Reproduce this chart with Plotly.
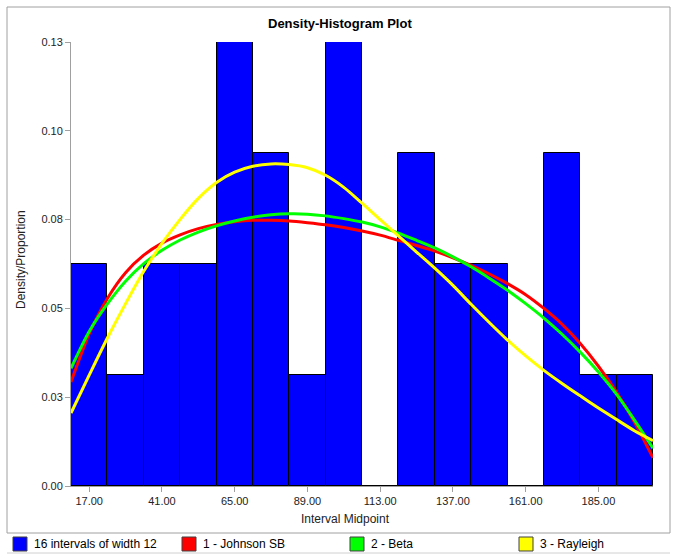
import plotly.graph_objects as go

# Histogram: 16 intervals of width 12, counts per interval out of 31 observations
midpoints = [17, 29, 41, 53, 65, 77, 89, 101, 113, 125, 137, 149, 161, 173, 185, 197]
counts = [2, 1, 2, 2, 4, 3, 1, 4, 0, 3, 2, 2, 0, 3, 1, 1]
n_obs = 31
bin_width = 12
proportions = [c / n_obs for c in counts]

# Fitted densities (scaled to interval proportion), sampled every 6 units
curve_x = [11, 17, 23, 29, 35, 41, 47, 53, 59, 65, 71, 77, 83, 89, 95, 101, 107,
           113, 119, 125, 131, 137, 143, 149, 155, 161, 167, 173, 179, 185, 191, 197, 203]

johnson_y = [0.0302, 0.0442, 0.0545, 0.0620, 0.0671, 0.0706, 0.0730, 0.0748, 0.0760, 0.0768,
             0.0772, 0.0772, 0.0770, 0.0765, 0.0759, 0.0751, 0.0741, 0.0729, 0.0714, 0.0699,
             0.0683, 0.0663, 0.0641, 0.0616, 0.0588, 0.0556, 0.0516, 0.0470, 0.0414, 0.0348,
             0.0272, 0.0184, 0.0082]

beta_y = [0.0342, 0.0449, 0.0529, 0.0595, 0.0646, 0.0685, 0.0715, 0.0738, 0.0756, 0.0770,
          0.0781, 0.0788, 0.0791, 0.0790, 0.0785, 0.0777, 0.0767, 0.0753, 0.0735, 0.0714,
          0.0692, 0.0666, 0.0637, 0.0604, 0.0569, 0.0530, 0.0488, 0.0441, 0.0389, 0.0331,
          0.0266, 0.0190, 0.0110]

rayleigh_y = [0.0212, 0.0322, 0.0430, 0.0530, 0.0624, 0.0705, 0.0775, 0.0836, 0.0882, 0.0912,
              0.0929, 0.0936, 0.0934, 0.0925, 0.0903, 0.0868, 0.0822, 0.0774, 0.0727, 0.0680,
              0.0633, 0.0583, 0.0528, 0.0475, 0.0424, 0.0378, 0.0336, 0.0298, 0.0262, 0.0227,
              0.0193, 0.0160, 0.0132]

x_tick_vals = [17, 41, 65, 89, 113, 137, 161, 185]
y_max = 4 / n_obs
y_tick_vals = [y_max * i / 5 for i in range(6)]

legend_labels = ["16 intervals of width 12", "1 - Johnson SB", "2 - Beta", "3 - Rayleigh"]
series_colors = ["#0000FF", "#FF0000", "#00FF00", "#FFFF00"]

W, H = 676, 554
L, R, T, B = 71, 23, 42, 68
PW, PH = W - L - R, H - T - B


def px(x):
    return (x - L) / PW


def py(y):
    return (H - B - y) / PH


FONT = "Liberation Sans, Arial, sans-serif"

fig = go.Figure()
fig.add_trace(go.Bar(
    x=midpoints, y=proportions, width=bin_width,
    marker=dict(color=series_colors[0], line=dict(color="#000000", width=1)),
    showlegend=False,
))
for ys, col in [(johnson_y, series_colors[1]),
                (beta_y, series_colors[2]),
                (rayleigh_y, series_colors[3])]:
    fig.add_trace(go.Scatter(
        x=curve_x, y=ys, mode="lines",
        line=dict(color=col, width=3, shape="spline", smoothing=0.8),
        showlegend=False,
    ))

shapes = [
    # chart frame
    dict(type="rect", xref="paper", yref="paper", x0=px(7), x1=px(670), y0=py(533), y1=py(7),
         line=dict(color="#A0A0A0", width=1), fillcolor="rgba(0,0,0,0)", layer="below"),
    # legend strip bottom line
    dict(type="line", xref="paper", yref="paper", x0=px(7), x1=px(670), y0=py(553), y1=py(553),
         line=dict(color="#D0D0D0", width=1)),
]
annotations = [
    dict(text="<b>Density-Histogram Plot</b>", xref="paper", yref="paper", x=px(340), y=py(24),
         showarrow=False, xanchor="center", yanchor="middle",
         font=dict(family=FONT, size=13, color="#000000")),
    dict(text="Interval Midpoint", xref="paper", yref="paper", x=px(345), y=py(519),
         showarrow=False, xanchor="center", yanchor="middle",
         font=dict(family=FONT, size=12, color="#222222")),
    dict(text="Density/Proportion", xref="paper", yref="paper", x=px(21), y=py(260),
         showarrow=False, xanchor="center", yanchor="middle", textangle=-90,
         font=dict(family=FONT, size=12, color="#222222")),
]

swatch_x = [13, 182, 350, 519]
for sx, label, col in zip(swatch_x, legend_labels, series_colors):
    shapes.append(dict(type="rect", xref="paper", yref="paper",
                       x0=px(sx), x1=px(sx + 14), y0=py(551), y1=py(537),
                       fillcolor=col, line=dict(color="#404040", width=1)))
    annotations.append(dict(text=label, xref="paper", yref="paper", x=px(sx + 19), y=py(544),
                            showarrow=False, xanchor="left", yanchor="middle",
                            font=dict(family=FONT, size=12, color="#000000")))

fig.update_layout(
    width=W, height=H,
    margin=dict(l=L, r=R, t=T, b=B),
    paper_bgcolor="#FFFFFF", plot_bgcolor="#FFFFFF",
    bargap=0, showlegend=False,
    shapes=shapes, annotations=annotations,
    xaxis=dict(
        range=[11, 203], tickmode="array", tickvals=x_tick_vals,
        ticktext=[f"{v:.2f}" for v in x_tick_vals],
        showgrid=False, zeroline=False, showline=True, linecolor="#A0A0A0", linewidth=1,
        ticks="outside", ticklen=5, tickcolor="#A0A0A0",
        tickfont=dict(family=FONT, size=11, color="#222222"),
    ),
    yaxis=dict(
        range=[0, y_max], tickmode="array", tickvals=y_tick_vals,
        ticktext=[f"{v:.2f}" for v in y_tick_vals],
        showgrid=False, zeroline=False, showline=True, linecolor="#A0A0A0", linewidth=1,
        ticks="outside", ticklen=5, tickcolor="#A0A0A0",
        tickfont=dict(family=FONT, size=11, color="#222222"),
    ),
)

fig.write_html("out.html")
